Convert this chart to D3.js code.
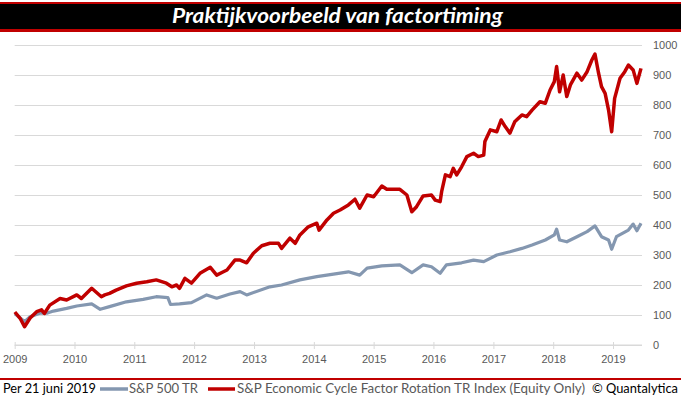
<!DOCTYPE html>
<html>
<head>
<meta charset="utf-8">
<script src="https://cdn.jsdelivr.net/npm/d3@7"></script>
<style>
  html, body { margin: 0; padding: 0; background: #fff; }
  svg { display: block; font-family: Lato, "Open Sans", sans-serif; }
</style>
</head>
<body>
<svg id="chart" width="681" height="399"></svg>
<script>
// S&P Economic Cycle Factor Rotation TR Index (red)
const rotationDates = [
  "2009-01-02","2009-02-03","2009-03-02","2009-04-05","2009-05-15","2009-06-14","2009-07-01","2009-08-03",
  "2009-10-05","2009-11-14","2010-01-15","2010-02-12","2010-04-16","2010-06-14","2010-07-05","2010-08-03",
  "2010-09-12","2010-11-14","2011-01-15","2011-03-18","2011-05-15","2011-07-16","2011-08-18","2011-09-16",
  "2011-10-04","2011-11-06","2011-12-16","2012-02-06","2012-04-09","2012-05-18","2012-06-28","2012-07-20",
  "2012-09-06","2012-10-08","2012-11-17","2012-12-28","2013-02-17","2013-04-08","2013-05-30","2013-06-18",
  "2013-08-08","2013-09-09","2013-10-08","2013-11-28","2014-01-19","2014-02-02","2014-03-22","2014-05-01",
  "2014-06-10","2014-07-31","2014-09-09","2014-10-08","2014-11-22","2015-01-01","2015-02-20","2015-03-22",
  "2015-06-10","2015-07-23","2015-08-22","2015-09-20","2015-10-30","2015-12-20","2016-01-12","2016-02-11",
  "2016-02-20","2016-03-14","2016-04-12","2016-05-01","2016-05-22","2016-06-21","2016-07-23","2016-09-02",
  "2016-10-01","2016-11-03","2016-11-10","2016-12-13","2017-01-22","2017-02-17","2017-03-14","2017-04-12",
  "2017-05-11","2017-06-24","2017-07-23","2017-08-25","2017-10-12","2017-11-14","2017-12-13","2018-01-08",
  "2018-01-22","2018-02-09","2018-03-03","2018-03-25","2018-04-16","2018-05-26","2018-06-24","2018-07-27",
  "2018-08-25","2018-09-13","2018-10-05","2018-10-23","2018-11-14","2018-12-05","2018-12-24","2019-01-11",
  "2019-02-13","2019-03-14","2019-04-05","2019-05-04","2019-05-27","2019-06-21"
];
const rotationValues = [
  110, 89, 61, 90, 111, 117, 105, 133,
  155, 150, 167, 155, 189, 161, 167, 172,
  183, 197, 206, 211, 217, 206, 194, 200,
  189, 222, 206, 239, 259, 233, 244, 250,
  283, 283, 274, 306, 331, 339, 339, 322,
  356, 339, 367, 394, 406, 383, 417, 439,
  450, 467, 486, 456, 500, 494, 530, 519,
  519, 500, 444, 461, 497, 500, 483, 478,
  511, 567, 561, 589, 567, 594, 628, 639,
  628, 633, 678, 717, 711, 750, 728, 706,
  744, 767, 761, 783, 811, 806, 850, 878,
  928, 844, 900, 828, 867, 906, 883, 911,
  950, 970, 906, 861, 839, 783, 711, 822,
  889, 911, 933, 917, 872, 922
];

// S&P 500 TR (grey)
const spxDates = [
  "2009-01-02","2009-03-02","2009-04-05","2009-06-03","2009-07-16","2009-08-25","2009-11-14","2010-01-15",
  "2010-04-16","2010-06-07","2010-08-03","2010-11-14","2011-02-24","2011-05-15","2011-07-25","2011-08-10",
  "2011-10-04","2011-12-16","2012-03-18","2012-05-18","2012-08-07","2012-10-08","2012-11-17","2013-04-08",
  "2013-06-18","2013-10-08","2014-01-19","2014-05-01","2014-07-31","2014-10-08","2014-11-22","2015-02-20",
  "2015-06-10","2015-08-22","2015-10-30","2015-12-20","2016-02-11","2016-03-20","2016-06-21","2016-09-02",
  "2016-11-03","2017-01-22","2017-04-12","2017-06-24","2017-08-25","2017-11-14","2018-01-08","2018-01-22",
  "2018-02-09","2018-03-25","2018-05-26","2018-07-27","2018-09-13","2018-10-23","2018-12-05","2018-12-24",
  "2019-01-22","2019-04-05","2019-05-04","2019-05-27","2019-06-21"
];
const spxValues = [
  104, 78, 94, 106, 106, 113, 122, 130,
  137, 119, 128, 144, 152, 161, 158, 135,
  137, 141, 167, 156, 170, 178, 167, 194,
  200, 217, 228, 236, 244, 233, 256, 264,
  267, 241, 267, 261, 239, 267, 274, 283,
  278, 300, 311, 322, 333, 350, 367, 386,
  350, 344, 361, 378, 397, 361, 350, 319,
  361, 383, 403, 381, 406
];

const yearTicks = [2009, 2010, 2011, 2012, 2013, 2014, 2015, 2016, 2017, 2018, 2019];
const valueTicks = [0, 100, 200, 300, 400, 500, 600, 700, 800, 900, 1000];

const titleText = "Praktijkvoorbeeld van factortiming";
const legendItems = [
  {label: "S&P 500 TR", color: "#8497b0"},
  {label: "S&P Economic Cycle Factor Rotation TR Index (Equity Only)", color: "#c00000"}
];

const parse = d3.timeParse("%Y-%m-%d");
const width = 681, height = 399;
const plot = {left: 14.7, right: 642, top: 45, bottom: 345};

const svg = d3.select("#chart");

// title bar
svg.append("rect").attr("x", 0).attr("y", 2).attr("width", width).attr("height", 30).attr("fill", "#c00000");
svg.append("rect").attr("x", 0).attr("y", 4).attr("width", width).attr("height", 25).attr("fill", "#000");
svg.append("text")
  .attr("x", 337.5).attr("y", 23)
  .attr("text-anchor", "middle")
  .attr("fill", "#fff")
  .style("font-size", "20px").style("font-weight", "bold").style("font-style", "italic")
  .attr("textLength", 331).attr("lengthAdjust", "spacingAndGlyphs")
  .text(titleText);

const x = d3.scaleTime()
  .domain([new Date(2009, 0, 1), new Date(2019, 5, 21)])
  .range([plot.left, plot.right - 1]);
const y = d3.scaleLinear()
  .domain([0, 1000])
  .range([plot.bottom, plot.top]);

// y axis + gridlines
const yAxis = d3.axisRight(y)
  .tickValues(valueTicks)
  .tickFormat(d3.format("d"))
  .tickSizeInner(-(plot.right - plot.left))
  .tickSizeOuter(0)
  .tickPadding(11);
const gy = svg.append("g")
  .attr("transform", `translate(${plot.right},0)`)
  .call(yAxis);
gy.select(".domain").remove();
gy.selectAll(".tick line").attr("stroke", "#d9d9d9");
gy.selectAll(".tick text").attr("fill", "#595959").style("font-size", "11px").attr("dy", "0.35em");

// x axis
const xAxis = d3.axisBottom(x)
  .tickValues(yearTicks.map(yr => new Date(yr, 0, 1)))
  .tickFormat(d3.timeFormat("%Y"))
  .tickSizeOuter(0);
const gx = svg.append("g")
  .attr("transform", `translate(0,${plot.bottom})`)
  .call(xAxis);
gx.select(".domain").attr("stroke", "#d9d9d9").attr("d", `M${plot.left},0H${plot.right}`);
gx.selectAll(".tick line").attr("stroke", "#d9d9d9").attr("y1", -3).attr("y2", 4);
gx.selectAll(".tick text").attr("fill", "#595959").style("font-size", "11px").attr("y", 18).attr("dy", 0);

// lines
const line = d3.line()
  .x(d => x(d.date))
  .y(d => y(d.value));

const spx = spxDates.map((d, i) => ({date: parse(d), value: spxValues[i]}));
const rot = rotationDates.map((d, i) => ({date: parse(d), value: rotationValues[i]}));

svg.append("path").datum(spx)
  .attr("d", line).attr("fill", "none")
  .attr("stroke", legendItems[0].color).attr("stroke-width", 3.2).attr("stroke-linejoin", "round");
svg.append("path").datum(rot)
  .attr("d", line).attr("fill", "none")
  .attr("stroke", legendItems[1].color).attr("stroke-width", 3.5).attr("stroke-linejoin", "round");

// bottom rule + legend
svg.append("rect").attr("x", 0).attr("y", 378).attr("width", width).attr("height", 2).attr("fill", "#c00000");

const legend = svg.append("g").style("font-size", "13px");
legend.append("text").attr("x", 3).attr("y", 393).attr("fill", "#000")
  .attr("textLength", 93).attr("lengthAdjust", "spacingAndGlyphs")
  .text("Per 21 juni 2019");

const legendPos = [
  {x0: 100, x1: 128, tx: 129, tw: 69},
  {x0: 208, x1: 235, tx: 237, tw: 348}
];
legendItems.forEach((item, i) => {
  const p = legendPos[i];
  legend.append("line").attr("x1", p.x0).attr("x2", p.x1).attr("y1", 389).attr("y2", 389)
    .attr("stroke", item.color).attr("stroke-width", 3.5);
  legend.append("text").attr("x", p.tx).attr("y", 393).attr("fill", "#595959")
    .attr("textLength", p.tw).attr("lengthAdjust", "spacingAndGlyphs")
    .text(item.label);
});
legend.append("text").attr("x", 592).attr("y", 393).attr("fill", "#000")
  .attr("textLength", 86).attr("lengthAdjust", "spacingAndGlyphs")
  .text("© Quantalytica");
</script>
</body>
</html>
